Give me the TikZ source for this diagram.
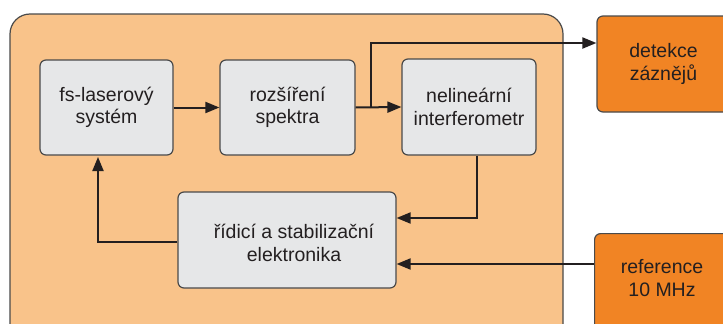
\documentclass[tikz,border=0pt]{standalone}
\usepackage{fontspec}
\setmainfont{Liberation Sans}
\usetikzlibrary{arrows.meta,calc}
\definecolor{bigfill}{HTML}{F9C38A}
\definecolor{edge}{HTML}{4A4A4A}
\definecolor{grayfill}{HTML}{E6E7E8}
\definecolor{orangefill}{HTML}{F18424}
\definecolor{ink}{HTML}{231F20}
\begin{document}
\begin{tikzpicture}[x=1pt,y=-1pt,
  graybox/.style={draw=edge,line width=1.2pt,fill=grayfill,rounded corners=6pt,
    inner sep=0pt,align=center,text=ink,font=\fontsize{19.5}{22.5}\selectfont},
  orangebox/.style={draw=edge,line width=1.2pt,fill=orangefill,rounded corners=6pt,
    inner sep=0pt,align=center,text=ink,font=\fontsize{19.5}{22.5}\selectfont},
  txt/.style={inner sep=0pt,align=center,text=ink,font=\fontsize{19.5}{22.5}\selectfont},
  arr/.style={draw=ink,line width=2pt,-{Triangle[length=14pt,width=11pt]}},
  ln/.style={draw=ink,line width=2pt}]
\useasboundingbox (0,0) rectangle (723,324);
\clip (0,0) rectangle (723,324);
\draw[draw=edge,line width=1.2pt,fill=bigfill,rounded corners=20pt] (10,14) rectangle (563,345);
\node[graybox,minimum width=133pt,minimum height=95pt] (laser) at (106.5,107.5) {fs-laserový\\systém};
\node[graybox,minimum width=135pt,minimum height=95pt] (rozs) at (287.5,107.5) {rozšíření\\spektra};
\node[graybox,minimum width=134pt,minimum height=96pt] (inter) at (469,107) {nelineární\\interferometr};
\node[graybox,minimum width=218pt,minimum height=96pt] (ctrl) at (287,240) {};
\node[txt] (ctrltext) at (294,243) {řídicí a stabilizační\\elektronika};
\node[orangebox,minimum width=133pt,minimum height=96pt] (det) at (663.5,64) {detekce\\záznějů};
\node[orangebox,minimum width=136pt,minimum height=110pt,anchor=north west] (ref) at (594,233) {};
\node[txt] (reftext) at (662,278) {reference\\10 MHz};
\coordinate (branch) at (371,108);
\draw[arr] (laser.east) -- (rozs.west);
\draw[arr] (rozs.east) -- (inter.west);
\draw[arr] (branch) -- (371,43) -- (det.west |- 0,43);
\draw[arr] ([xshift=7.5pt]inter.south) |- ([yshift=22pt]ctrl.east);
\draw[arr] ([yshift=-2pt]ctrl.west) -| (98,157);
\draw[arr] ([yshift=-31pt]ref.north west) -- (ctrl.east |- 0,264);
\end{tikzpicture}
\end{document}
